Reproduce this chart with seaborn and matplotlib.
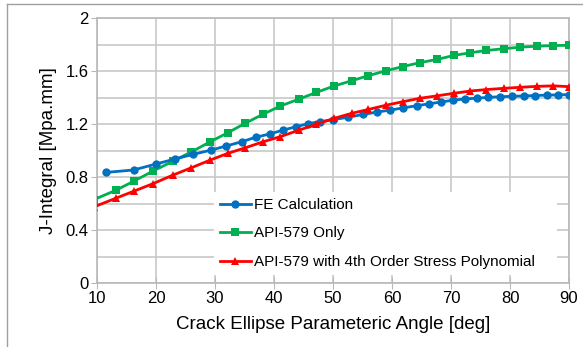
import numpy as np
import pandas as pd
import seaborn as sns
import matplotlib.pyplot as plt
from matplotlib.lines import Line2D
from matplotlib.ticker import MultipleLocator

# FE calculation (crack front nodes)
fe_angle = [11.6, 16.2, 20.0, 23.2, 26.3, 29.4, 31.9, 34.5, 36.9, 39.3, 41.6, 43.8,
            45.8, 47.8, 50.0, 52.6, 55.1, 57.4, 59.7, 61.9, 64.2, 66.2, 68.3, 70.4,
            72.4, 74.4, 76.3, 78.3, 80.3, 82.3, 84.2, 86.2, 88.2, 90.0]
fe_j = [0.835, 0.853, 0.898, 0.936, 0.971, 1.004, 1.034, 1.066, 1.100, 1.125, 1.155, 1.180,
        1.203, 1.218, 1.232, 1.252, 1.272, 1.290, 1.305, 1.322, 1.338, 1.352, 1.366, 1.380,
        1.389, 1.395, 1.401, 1.406, 1.409, 1.412, 1.415, 1.418, 1.420, 1.422]

# API-579 points
api_angle = [9.5, 13.2, 16.3, 19.5, 22.9, 26.0, 29.2, 32.2, 35.1, 38.1, 41.1, 44.3, 47.2,
             50.2, 53.2, 56.0, 59.0, 61.8, 64.7, 67.7, 70.5, 73.3, 76.0, 78.9, 81.7,
             84.5, 87.3, 90.0]
api_only = [0.63, 0.70, 0.77, 0.845, 0.92, 0.99, 1.066, 1.135, 1.205, 1.273, 1.336, 1.389,
            1.439, 1.487, 1.527, 1.565, 1.602, 1.633, 1.663, 1.688, 1.718, 1.738, 1.755,
            1.768, 1.780, 1.787, 1.792, 1.794]
api_poly = [0.575, 0.64, 0.694, 0.75, 0.815, 0.87, 0.928, 0.979, 1.020, 1.065, 1.105, 1.155,
            1.198, 1.243, 1.281, 1.310, 1.342, 1.368, 1.394, 1.413, 1.432, 1.449, 1.460,
            1.469, 1.477, 1.484, 1.488, 1.482]

plt.rcParams['font.family'] = ['Liberation Sans', 'DejaVu Sans']

fig = plt.figure(figsize=(5.83, 3.47), dpi=100)
ax = fig.add_axes([0.1664, 0.1844, 0.8096, 0.7637])

sns.lineplot(x=fe_angle, y=fe_j, ax=ax, color='#0070C0', marker='o', markersize=6,
             markeredgewidth=0, lw=2, label='FE Calculation', zorder=4)
sns.lineplot(x=api_angle, y=api_only, ax=ax, color='#00B050', marker='s', markersize=5.5,
             markeredgewidth=0, lw=2, label='API-579 Only', zorder=3)
sns.lineplot(x=api_angle, y=api_poly, ax=ax, color='#FF0000', marker='^', markersize=6,
             markeredgewidth=0, lw=2, label='API-579 with 4th Order Stress Polynomial', zorder=5)

ax.set_xlim(10, 90)
ax.set_ylim(0, 2)
ax.xaxis.set_major_locator(MultipleLocator(10))
ax.yaxis.set_minor_locator(MultipleLocator(0.2))
ax.yaxis.set_major_locator(plt.FixedLocator([0, 0.4, 0.8, 1.2, 1.6, 2.0]))
ax.set_yticklabels(['0', '0.4', '0.8', '1.2', '1.6', '2'])

ax.grid(True, which='major', color='#C8C8C8', lw=1.2)
ax.grid(True, which='minor', axis='y', color='#C8C8C8', lw=1.2)
ax.set_axisbelow(True)
for s in ax.spines.values():
    s.set_color('#B8B8B8')
    s.set_linewidth(1.2)

ax.tick_params(axis='x', which='major', direction='inout', length=8, color='#B8B8B8',
               labelsize=12, pad=2)
ax.tick_params(axis='y', which='major', direction='out', length=4, color='#B8B8B8',
               labelsize=12, pad=2)
ax.tick_params(axis='y', which='minor', length=0)

ax.set_xlabel('Crack Ellipse Parameteric Angle [deg]', fontsize=13.5, labelpad=7)
ax.set_ylabel('J-Integral [Mpa.mm]', fontsize=13.5, labelpad=6)

leg = ax.legend(loc='lower left', bbox_to_anchor=(0.248, 0.03, 0.727, 0.36), mode='expand',
                fontsize=11, frameon=True, facecolor='white', edgecolor='none', framealpha=1,
                fancybox=False, handlelength=2.0, handletextpad=0.2, labelspacing=0.95,
                borderaxespad=0)
leg.set_zorder(6)

fig.add_artist(Line2D([0.012, 0.012], [0.0, 0.988], transform=fig.transFigure, color='#A0A0A0', lw=1))
fig.add_artist(Line2D([0.012, 1.0], [0.988, 0.988], transform=fig.transFigure, color='#A0A0A0', lw=1))

fig.savefig('out.png', dpi=100)
